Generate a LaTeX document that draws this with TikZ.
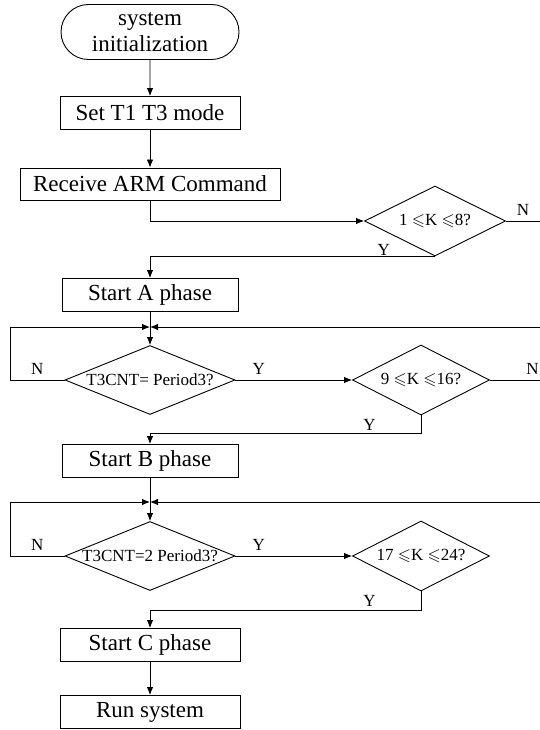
\documentclass[tikz,border=0pt]{standalone}
\usepackage{fontspec}
\usepackage{amssymb}
\setmainfont{Liberation Serif}
\usetikzlibrary{arrows.meta,shapes.geometric,shapes.misc}
\begin{document}
\begin{tikzpicture}[x=1pt,y=-1pt,line width=0.9pt,>={Latex[length=8pt,width=6.5pt]},
box/.style={draw,rectangle,minimum height=33pt,inner sep=0pt,font=\fontsize{23}{26}\selectfont},
term/.style={draw,rounded rectangle,minimum width=178pt,minimum height=55pt,inner sep=0pt,align=center,font=\fontsize{23}{26}\selectfont},
test/.style={draw,diamond,aspect=2.4,inner sep=0pt,font=\fontsize{17}{19}\selectfont},
yn/.style={inner sep=5pt,font=\fontsize{17}{19}\selectfont}]
\useasboundingbox (0,0) rectangle (540,730);
\node[term] (init) at (150,32) {system\\initialization};
\node[box,minimum width=180pt] (mode) at (150,113) {Set T1 T3 mode};
\node[box,minimum width=260pt,minimum height=32pt] (cmd) at (150,184) {Receive ARM Command};
\node[test,minimum width=141pt,minimum height=70pt] (k1) at (435,221) {1 $\leqslant$K $\leqslant$8?};
\node[box,minimum width=176pt] (startA) at (150,295) {Start A phase};
\node[test,minimum width=170pt,minimum height=69pt] (cnt1) at (150,380) {T3CNT= Period3?};
\node[test,minimum width=137pt,minimum height=70pt] (k2) at (421,380) {9 $\leqslant$K $\leqslant$16?};
\node[box,minimum width=176pt] (startB) at (150,461) {Start B phase};
\node[test,minimum width=170pt,minimum height=69pt] (cnt2) at (150,556) {T3CNT=2 Period3?};
\node[test,minimum width=137pt,minimum height=70pt] (k3) at (421,556) {17 $\leqslant$K $\leqslant$24?};
\node[box,minimum width=180pt] (startC) at (150,645) {Start C phase};
\node[box,minimum width=180pt] (run) at (150,712) {Run system};
\coordinate (ja) at (150,327);
\coordinate (jb) at (150,502);
\coordinate (la) at (10,327);
\coordinate (lb) at (10,502);
\coordinate (ra) at (540,327);
\coordinate (rb) at (540,502);
\coordinate (e1) at (540,221);
\coordinate (e2) at (540,380);
\draw[->] (init) -- (mode);
\draw[->] (mode) -- (cmd);
\draw[->] (cmd.south) |- (k1.west);
\draw (k1.east) -- node[yn,above] {N} (e1);
\draw[->] (k1.south) -| node[yn,above,inner sep=1pt,pos=0.09] {Y} (startA.north);
\draw (startA) -- (ja);
\draw[->] (cnt1.west) -| node[yn,above,pos=0.25] {N} (la) -- (ja);
\draw[->] (ra) -- (ja);
\draw[->] (ja) -- (cnt1);
\draw[->] (cnt1) -- node[yn,above,pos=0.2] {Y} (k2);
\draw (k2.east) -- node[yn,above,pos=0.85] {N} (e2);
\draw[->] (k2.south) -- node[yn,left=40pt] {Y} ++(0,18) -| (startB.north);
\draw (startB) -- (jb);
\draw[->] (cnt2.west) -| node[yn,above,pos=0.25] {N} (lb) -- (jb);
\draw[->] (rb) -- (jb);
\draw[->] (jb) -- (cnt2);
\draw[->] (cnt2) -- node[yn,above,pos=0.2] {Y} (k3);
\draw[->] (k3.south) -- node[yn,left=40pt] {Y} ++(0,19) -| (startC.north);
\draw[->] (startC) -- (run);
\end{tikzpicture}
\end{document}
